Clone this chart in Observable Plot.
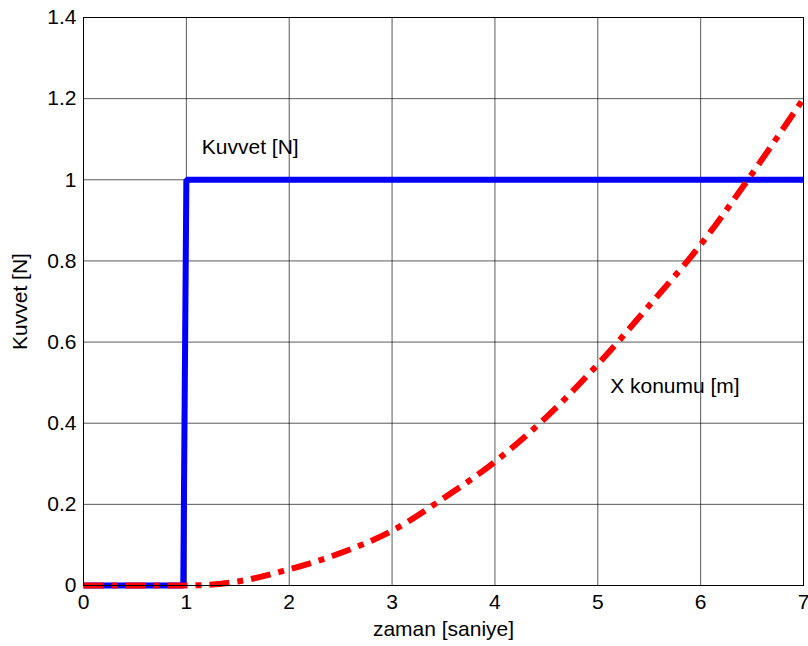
<!DOCTYPE html>
<html><head><meta charset="utf-8">
<script src="https://cdn.jsdelivr.net/npm/d3@7"></script>
<script src="https://cdn.jsdelivr.net/npm/@observablehq/plot@0.6"></script>
<style>body{margin:0;background:#fff}</style>
</head><body><div id="chart"></div>
<script>
// Kuvvet [N] (step force)
const forceT = [0, 0.97, 1.0, 7];
const forceV = [0, 0, 1, 1];
// X konumu [m]
const posT = [0, 1, 1.5, 2, 2.5, 3, 3.5, 4, 4.5, 5, 5.5, 6, 6.5, 7];
const posV = [0, 0, 0.01, 0.04, 0.08, 0.135, 0.215, 0.305, 0.415, 0.545, 0.69, 0.84, 1.015, 1.2];
// ticks
const xTicks = [0, 1, 2, 3, 4, 5, 6, 7];
const yTicks = [0, 0.2, 0.4, 0.6, 0.8, 1, 1.2, 1.4];
const yTickLabels = ["0", "0.2", "0.4", "0.6", "0.8", "1", "1.2", "1.4"];
// annotations
const noteText = ["Kuvvet [N]", "X konumu [m]"];
const noteX = [1.15, 5.12];
const noteY = [1.08, 0.49];

const force = forceT.map((t, i) => ({t, v: forceV[i]}));
const pos = posT.map((t, i) => ({t, v: posV[i]}));
const notes = noteText.map((s, i) => ({s, x: noteX[i], y: noteY[i]}));
const font = "Liberation Sans, Arial, sans-serif";

const chart = Plot.plot({
  width: 808,
  height: 646,
  marginLeft: 83,
  marginRight: 5,
  marginTop: 17,
  marginBottom: 61,
  style: {fontFamily: font, fontSize: "21px", color: "#000", background: "#fff"},
  x: {domain: [0, 7]},
  y: {domain: [0, 1.4]},
  marks: [
    Plot.gridX(xTicks, {stroke: "#000", strokeOpacity: 0.65, strokeWidth: 1}),
    Plot.gridY(yTicks, {stroke: "#000", strokeOpacity: 0.65, strokeWidth: 1}),
    Plot.line(force, {x: "t", y: "v", stroke: "#0000ff", strokeWidth: 6, strokeLinejoin: "miter", strokeLinecap: "butt"}),
    Plot.line(pos, {x: "t", y: "v", stroke: "#ff0000", strokeWidth: 6, strokeDasharray: "20,8,6,8", strokeLinecap: "butt", curve: "monotone-x"}),
    Plot.frame({stroke: "#000", strokeWidth: 1}),
    Plot.text(notes, {x: "x", y: "y", text: "s", textAnchor: "start", fontSize: 21, fill: "#000"}),
    Plot.axisX(xTicks, {tickSize: 0, tickPadding: 9, label: "zaman [saniye]", labelAnchor: "center", labelArrow: "none", labelOffset: 50, fontSize: 21}),
    Plot.axisY(yTicks, {tickSize: 0, tickPadding: 7, tickFormat: (d, i) => yTickLabels[i], label: "Kuvvet [N]", labelAnchor: "center", labelArrow: "none", labelOffset: 71, fontSize: 21})
  ]
});
document.getElementById("chart").appendChild(chart);
</script>
</body></html>
